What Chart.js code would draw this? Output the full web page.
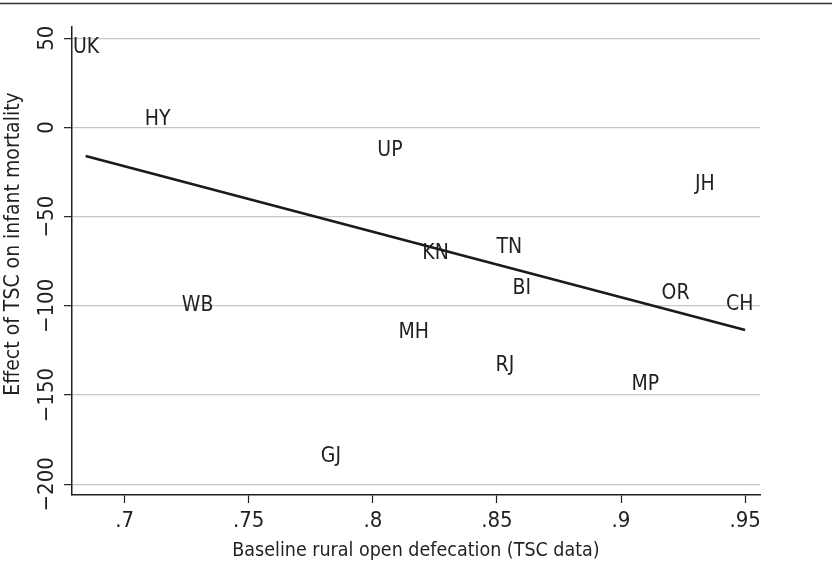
<!DOCTYPE html>
<html>
<head>
<meta charset="utf-8">
<script src="https://cdn.jsdelivr.net/npm/chart.js@4.4.1/dist/chart.umd.min.js"></script>
<style>
  html, body { margin: 0; padding: 0; background: #fff; }
  #wrap { width: 832px; height: 571px; position: relative; }
</style>
</head>
<body>
<div id="wrap"><canvas id="chart" width="832" height="571"></canvas></div>
<script>
// ─── Data ────────────────────────────────────────
const STATES = ['UK', 'HY', 'UP', 'KN', 'TN', 'BI', 'MH', 'RJ', 'JH', 'OR', 'CH', 'MP', 'WB', 'GJ'];
const OPEN_DEF = [0.6845, 0.7133, 0.8069, 0.8253, 0.855, 0.860, 0.8165, 0.8532, 0.9338, 0.922, 0.9478, 0.9098, 0.7294, 0.7831];
const EFFECT = [44.6, 4.5, -12.9, -70.7, -67.5, -90.4, -115.1, -133.3, -32.0, -93.0, -99.2, -144.2, -99.9, -184.7];

const FIT_X = [0.6843, 0.95];
const FIT_Y = [-16.0, -113.5];

const X_TICKS = [0.7, 0.75, 0.8, 0.85, 0.9, 0.95];
const Y_TICKS = [-200, -150, -100, -50, 0, 50];

const Y_TITLE = 'Effect of TSC on infant mortality';
const X_TITLE = 'Baseline rural open defecation (TSC data)';

const FONT = '"Liberation Sans Narrow", "DejaVu Sans Condensed", "Arial Narrow", sans-serif';
const INK = '#231f20';

// chart area box, in canvas pixels
const AREA = { left: 72, right: 760, top: 27, bottom: 495 };

const fmtX = v => String(v).replace(/^0/, '');
const fmtY = v => (v < 0 ? '\u2212' + Math.abs(v) : String(v));

// ─── Plugins ─────────────────────────────────────
const stateLabels = {
  id: 'stateLabels',
  afterDatasetsDraw(chart) {
    const { ctx, scales: { x, y } } = chart;
    ctx.save();
    ctx.font = '21px ' + FONT;
    ctx.fillStyle = INK;
    ctx.textAlign = 'center';
    ctx.textBaseline = 'middle';
    STATES.forEach((s, i) => {
      ctx.fillText(s, x.getPixelForValue(OPEN_DEF[i]), y.getPixelForValue(EFFECT[i]));
    });
    ctx.restore();
  }
};

const frame = {
  id: 'frame',
  afterDraw(chart) {
    const { ctx, scales: { y } } = chart;
    ctx.save();
    // top rule
    ctx.strokeStyle = '#333';
    ctx.lineWidth = 1.5;
    ctx.beginPath();
    ctx.moveTo(0, 3.5);
    ctx.lineTo(832, 3.5);
    ctx.stroke();
    ctx.fillStyle = INK;
    ctx.textAlign = 'center';
    ctx.textBaseline = 'middle';
    // rotated y tick labels
    ctx.font = '22px ' + FONT;
    y.ticks.forEach((t, i) => {
      ctx.save();
      ctx.translate(47, y.getPixelForTick(i));
      ctx.rotate(-Math.PI / 2);
      ctx.fillText(fmtY(t.value), 0, 0);
      ctx.restore();
    });
    // y title (sits a bit above the axis middle in the original)
    ctx.font = '21px ' + FONT;
    ctx.translate(14, 244);
    ctx.rotate(-Math.PI / 2);
    ctx.fillText(Y_TITLE, 0, 0);
    ctx.restore();
  }
};

// ─── Chart ───────────────────────────────────────
new Chart(document.getElementById('chart'), {
  type: 'scatter',
  data: {
    datasets: [
      {
        label: 'states',
        data: STATES.map((s, i) => ({ x: OPEN_DEF[i], y: EFFECT[i] })),
        pointRadius: 0,
        showLine: false
      },
      {
        label: 'fit',
        data: FIT_X.map((v, i) => ({ x: v, y: FIT_Y[i] })),
        showLine: true,
        borderColor: '#1a1a1a',
        borderWidth: 2.6,
        pointRadius: 0
      }
    ]
  },
  options: {
    responsive: false,
    animation: false,
    layout: { padding: { left: 0, right: 832 - AREA.right, top: AREA.top, bottom: 0 } },
    plugins: { legend: { display: false }, tooltip: { enabled: false } },
    scales: {
      x: {
        type: 'linear',
        min: 0.6788,
        max: 0.956,
        afterBuildTicks: s => { s.ticks = X_TICKS.map(v => ({ value: v })); },
        afterFit: s => { s.height = 571 - AREA.bottom; },
        grid: { drawOnChartArea: false, drawTicks: true, tickLength: 8, tickColor: INK, tickWidth: 1.2 },
        border: { color: INK, width: 1.5 },
        ticks: { color: INK, font: { family: FONT, size: 22 }, padding: 5, maxRotation: 0, callback: v => fmtX(v) },
        title: { display: true, text: X_TITLE, color: INK, font: { family: FONT, size: 19.5 }, padding: { top: 0, bottom: 8 } }
      },
      y: {
        type: 'linear',
        min: -206,
        max: 56.3,
        afterBuildTicks: s => { s.ticks = Y_TICKS.map(v => ({ value: v })); },
        afterFit: s => { s.width = AREA.left; },
        grid: { color: '#c6c6c6', lineWidth: 1.3, tickLength: 8, tickColor: INK, tickWidth: 1.2 },
        border: { color: INK, width: 1.5 },
        ticks: { color: 'rgba(0,0,0,0)', font: { family: FONT, size: 22 } },
        title: { display: false }
      }
    }
  },
  plugins: [stateLabels, frame]
});
</script>
</body>
</html>
